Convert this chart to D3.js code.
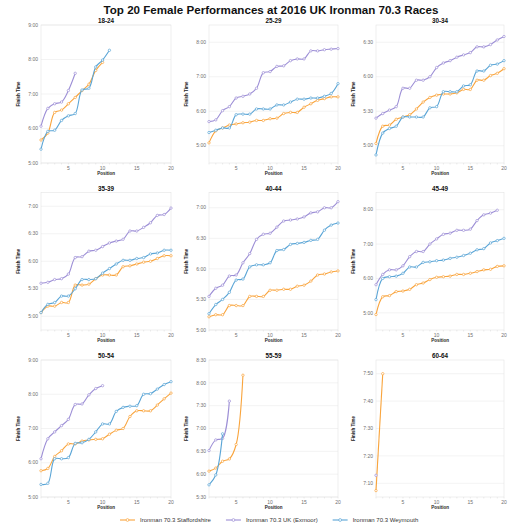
<!DOCTYPE html>
<html>
<head>
<meta charset="utf-8">
<script src="https://cdn.jsdelivr.net/npm/d3@7"></script>
<style>
  body { margin: 0; background: #fff; }
  svg { font-family: "Liberation Sans", Arial, Helvetica, sans-serif; }
  .frame { fill: none; stroke: #e4e4e4; stroke-width: 0.6; }
  .grid { stroke: #ebebeb; stroke-width: 0.6; }
  .xtick { stroke: #d8d8d8; stroke-width: 0.5; }
  .ylab, .xlab { fill: #707070; font-size: 5px; }
  .axis-title { fill: #222; font-size: 4.5px; font-weight: bold; }
  .panel-title { fill: #111; font-size: 6.3px; font-weight: bold; }
  .main-title { fill: #111; font-size: 11.6px; font-weight: bold; }
  .legend-text { fill: #333; font-size: 6px; }
</style>
</head>
<body>
<svg id="chart" width="530" height="530"></svg>
<script>
// age groups, one panel each (read left to right, top to bottom)
const ageGroups = ["18-24", "25-29", "30-34", "35-39", "40-44", "45-49", "50-54", "55-59", "60-64"];
const seriesNames = ["Ironman 70.3 Staffordshire", "Ironman 70.3 UK (Exmoor)", "Ironman 70.3 Weymouth"];
const seriesColors = ["#f9a43c", "#9d8fd6", "#5aa5d6"];

// finish times by position, one list per age group
const staffordshire = [
  ["5:40", "5:52", "6:28", "6:32", "6:43", "6:54", "7:06", "7:17", "7:41", "7:55"],
  ["5:05", "5:26", "5:31", "5:36", "5:38", "5:40", "5:41", "5:44", "5:44", "5:47", "5:48", "5:56", "5:58", "5:58", "6:07", "6:13", "6:19", "6:22", "6:25", "6:25"],
  ["5:02", "5:17", "5:18", "5:23", "5:25", "5:27", "5:32", "5:38", "5:42", "5:44", "5:45", "5:45", "5:46", "5:49", "5:49", "5:57", "5:57", "6:01", "6:03", "6:07"],
  ["5:04", "5:11", "5:11", "5:15", "5:15", "5:34", "5:34", "5:35", "5:41", "5:45", "5:45", "5:45", "5:54", "5:55", "5:57", "5:59", "6:00", "6:03", "6:06", "6:06"],
  ["5:13", "5:15", "5:15", "5:24", "5:24", "5:24", "5:33", "5:33", "5:33", "5:39", "5:39", "5:40", "5:40", "5:43", "5:44", "5:48", "5:54", "5:55", "5:57", "5:58"],
  ["4:57", "5:28", "5:30", "5:37", "5:38", "5:41", "5:49", "5:52", "5:58", "6:02", "6:03", "6:04", "6:07", "6:07", "6:09", "6:12", "6:15", "6:16", "6:21", "6:22"],
  ["5:46", "5:50", "6:11", "6:21", "6:33", "6:33", "6:38", "6:40", "6:41", "6:42", "6:50", "6:57", "7:00", "7:21", "7:31", "7:31", "7:31", "7:41", "7:52", "8:02"],
  ["6:04", "6:08", "6:17", "6:20", "6:39", "8:10"],
  ["7:07:20", "7:50:00"]
];
const exmoor = [
  ["6:04", "6:35", "6:43", "6:46", "7:06", "7:36"],
  ["5:42", "5:45", "6:01", "6:08", "6:23", "6:26", "6:30", "6:40", "7:07", "7:09", "7:18", "7:19", "7:28", "7:31", "7:31", "7:45", "7:45", "7:47", "7:48", "7:49"],
  ["5:24", "5:28", "5:31", "5:34", "5:50", "5:50", "5:57", "5:57", "6:00", "6:08", "6:12", "6:14", "6:17", "6:19", "6:21", "6:26", "6:26", "6:28", "6:32", "6:35"],
  ["5:36", "5:37", "5:40", "5:41", "5:46", "6:04", "6:05", "6:11", "6:12", "6:16", "6:20", "6:22", "6:24", "6:33", "6:33", "6:37", "6:42", "6:50", "6:51", "6:58"],
  ["5:33", "5:41", "5:44", "5:53", "5:54", "6:06", "6:15", "6:29", "6:34", "6:35", "6:41", "6:47", "6:48", "6:49", "6:51", "6:55", "6:56", "7:00", "7:00", "7:06"],
  ["5:49", "6:07", "6:15", "6:15", "6:22", "6:38", "6:47", "6:47", "7:00", "7:09", "7:17", "7:19", "7:24", "7:24", "7:26", "7:41", "7:51", "7:54", "7:59"],
  ["6:07", "6:42", "6:54", "7:05", "7:16", "7:42", "7:43", "7:59", "8:10", "8:15"],
  ["6:31", "6:45", "6:47", "7:36"],
  ["7:12:55"]
];
const weymouth = [
  ["5:24", "5:55", "5:57", "6:14", "6:22", "6:26", "7:07", "7:10", "7:47", "7:59", "8:16"],
  ["5:23", "5:27", "5:31", "5:31", "5:54", "5:55", "5:55", "6:04", "6:04", "6:04", "6:11", "6:11", "6:16", "6:21", "6:21", "6:23", "6:23", "6:26", "6:31", "6:48"],
  ["4:52", "5:11", "5:15", "5:17", "5:25", "5:25", "5:25", "5:25", "5:33", "5:34", "5:47", "5:47", "5:47", "5:52", "5:53", "6:05", "6:05", "6:10", "6:11", "6:14"],
  ["5:04", "5:13", "5:15", "5:22", "5:22", "5:30", "5:40", "5:40", "5:41", "5:47", "5:52", "5:57", "6:01", "6:01", "6:03", "6:04", "6:08", "6:09", "6:12", "6:12"],
  ["5:16", "5:25", "5:30", "5:37", "5:49", "5:50", "6:02", "6:04", "6:04", "6:06", "6:18", "6:19", "6:24", "6:25", "6:26", "6:28", "6:29", "6:38", "6:43", "6:45"],
  ["5:23", "6:00", "6:03", "6:04", "6:09", "6:20", "6:20", "6:28", "6:29", "6:31", "6:32", "6:35", "6:37", "6:40", "6:44", "6:50", "6:52", "7:02", "7:06", "7:10"],
  ["5:22", "5:24", "6:07", "6:07", "6:09", "6:34", "6:35", "6:41", "6:54", "7:08", "7:08", "7:30", "7:37", "7:39", "7:40", "8:00", "8:01", "8:09", "8:17", "8:22"],
  ["5:46", "5:59", "6:53"],
  []
];

// y axis range and tick labels of each panel
const yDomains = [
  ["5:00", "9:00"], ["4:30", "8:30"], ["4:45", "6:45"],
  ["4:45", "7:15"], ["5:00", "7:15"], ["4:30", "8:30"],
  ["5:00", "9:00"], ["5:30", "8:30"], ["7:05", "7:55"]
];
const yTicks = [
  ["5:00", "6:00", "7:00", "8:00", "9:00"],
  ["5:00", "6:00", "7:00", "8:00"],
  ["5:00", "5:30", "6:00", "6:30"],
  ["5:00", "5:30", "6:00", "6:30", "7:00"],
  ["5:00", "5:30", "6:00", "6:30", "7:00"],
  ["5:00", "6:00", "7:00", "8:00"],
  ["5:00", "6:00", "7:00", "8:00", "9:00"],
  ["5:30", "6:00", "6:30", "7:00", "7:30", "8:00", "8:30"],
  ["7:10", "7:20", "7:30", "7:40", "7:50"]
];
const xTicks = [5, 10, 15, 20];

// "h:mm" or "h:mm:ss" -> hours
const toHours = s => {
  const p = s.split(":").map(Number);
  return p[0] + p[1] / 60 + (p[2] || 0) / 3600;
};

const svg = d3.select("#chart");

// panel grid
const colLeft = [41, 209, 376],
      colRight = [171, 338, 504],
      rowTop = [25, 192.5, 360],
      rowBottom = [163, 330, 497];

svg.append("text")
  .attr("class", "main-title")
  .attr("x", 271)
  .attr("y", 13.5)
  .attr("text-anchor", "middle")
  .text("Top 20 Female Performances at 2016 UK Ironman 70.3 Races");

const allSeries = [staffordshire, exmoor, weymouth];

ageGroups.forEach((group, i) => {
  const col = i % 3, row = Math.floor(i / 3);
  const x0 = colLeft[col], x1 = colRight[col],
        y0 = rowTop[row], y1 = rowBottom[row];

  const x = d3.scaleLinear().domain([1, 20]).range([x0, x1]);
  const y = d3.scaleLinear().domain(yDomains[i].map(toHours)).range([y1, y0]);

  const g = svg.append("g");

  // horizontal grid lines
  g.selectAll(".grid")
    .data(yTicks[i])
    .enter()
    .append("line")
    .attr("class", "grid")
    .attr("x1", x0).attr("x2", x1)
    .attr("y1", d => y(toHours(d))).attr("y2", d => y(toHours(d)));

  g.append("rect")
    .attr("class", "frame")
    .attr("x", x0).attr("y", y0)
    .attr("width", x1 - x0).attr("height", y1 - y0);

  // little ticks along the bottom at each position
  g.selectAll(".xtick")
    .data(d3.range(1, 21))
    .enter()
    .append("line")
    .attr("class", "xtick")
    .attr("x1", d => x(d)).attr("x2", d => x(d))
    .attr("y1", y1).attr("y2", y1 + 1.5);

  g.selectAll(".ylab")
    .data(yTicks[i])
    .enter()
    .append("text")
    .attr("class", "ylab")
    .attr("x", x0 - 3)
    .attr("y", d => y(toHours(d)) + 1.7)
    .attr("text-anchor", "end")
    .text(d => d);

  g.selectAll(".xlab")
    .data(xTicks)
    .enter()
    .append("text")
    .attr("class", "xlab")
    .attr("x", d => x(d))
    .attr("y", y1 + 6.5)
    .attr("text-anchor", "middle")
    .text(d => d);

  g.append("text")
    .attr("class", "axis-title")
    .attr("x", (x0 + x1) / 2)
    .attr("y", y1 + 12)
    .attr("text-anchor", "middle")
    .text("Position");

  g.append("text")
    .attr("class", "axis-title")
    .attr("transform", "translate(" + (x0 - 21.5) + "," + ((y0 + y1) / 2) + ") rotate(-90)")
    .attr("text-anchor", "middle")
    .text("Finish Time");

  g.append("text")
    .attr("class", "panel-title")
    .attr("x", (x0 + x1) / 2)
    .attr("y", y0 - 2)
    .attr("text-anchor", "middle")
    .text(group);

  const line = d3.line()
    .x((d, k) => x(k + 1))
    .y(d => y(toHours(d)))
    .curve(d3.curveCatmullRom.alpha(0.5));

  allSeries.forEach((s, j) => {
    const vals = s[i];
    if (!vals.length) return;
    g.append("path")
      .datum(vals)
      .attr("fill", "none")
      .attr("stroke", seriesColors[j])
      .attr("stroke-width", 1.1)
      .attr("d", line);
    g.selectAll(".pt" + j)
      .data(vals)
      .enter()
      .append("circle")
      .attr("class", "pt" + j)
      .attr("cx", (d, k) => x(k + 1))
      .attr("cy", d => y(toHours(d)))
      .attr("r", 1.2)
      .attr("fill", "#fff")
      .attr("stroke", seriesColors[j])
      .attr("stroke-width", 0.7);
  });
});

// legend along the bottom
const legend = svg.append("g").attr("transform", "translate(120,520)");
let lx = 0;
seriesNames.forEach((name, j) => {
  const item = legend.append("g").attr("transform", "translate(" + lx + ",0)");
  item.append("line")
    .attr("x1", 0).attr("x2", 15)
    .attr("y1", 0).attr("y2", 0)
    .attr("stroke", seriesColors[j])
    .attr("stroke-width", 1.1);
  item.append("circle")
    .attr("cx", 7.5).attr("cy", 0).attr("r", 1.4)
    .attr("fill", "#fff")
    .attr("stroke", seriesColors[j])
    .attr("stroke-width", 0.7);
  const t = item.append("text")
    .attr("class", "legend-text")
    .attr("x", 20)
    .attr("y", 2.1)
    .text(name);
  lx += 20 + t.node().getComputedTextLength() + 15;
});
</script>
</body>
</html>
